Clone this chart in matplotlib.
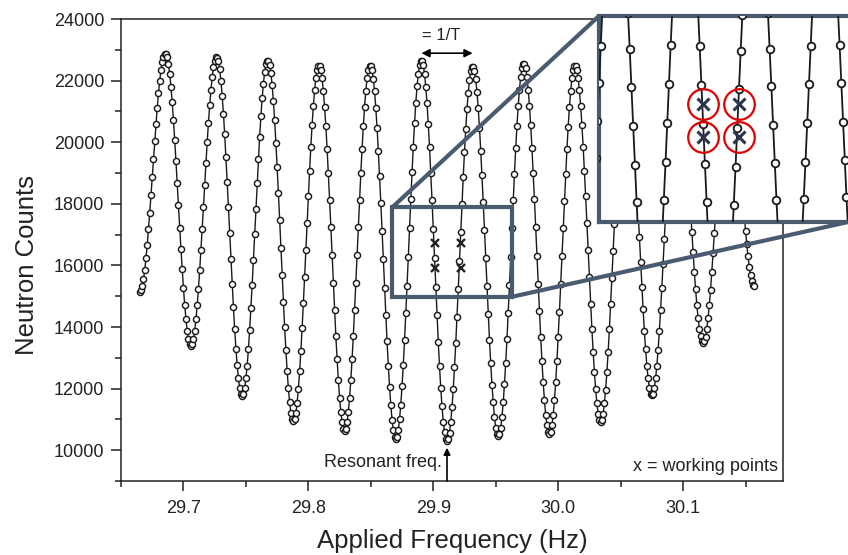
import numpy as np
import matplotlib
matplotlib.use("Agg")
import matplotlib.pyplot as plt
from matplotlib.patches import Rectangle, ConnectionPatch

plt.rcParams['font.family'] = ['Liberation Sans', 'DejaVu Sans']

# frequency sweep (Hz): start and step of the scan
freq_start = 29.665
freq_step = 0.001

# neutron counts, one line per half fringe
counts = [
    15150, 15200, 15330, 15550, 15850, 16230, 16670, 17170, 17710, 18280, 18870, 19460, 20040, 20600, 21120, 21590, 22000, 22340, 22600, 22780, 22870,
    22870, 22760, 22540, 22210, 21800, 21290, 20710, 20080, 19390, 18680, 17950, 17230, 16530, 15870, 15260, 14720, 14260, 13880, 13610, 13450,
    13390, 13450, 13610, 13880, 14250, 14700, 15240, 15840, 16500, 17190, 17900, 18620, 19320, 20000, 20630, 21200, 21700, 22110, 22430, 22650, 22760,
    22750, 22630, 22370, 22000, 21510, 20930, 20260, 19520, 18720, 17900, 17050, 16220, 15400, 14640, 13930, 13300, 12760, 12330, 12020, 11830,
    11760, 11820, 12010, 12330, 12750, 13280, 13910, 14610, 15370, 16180, 17010, 17840, 18660, 19450, 20180, 20840, 21420, 21900, 22280, 22530, 22650,
    22650, 22520, 22250, 21850, 21330, 20710, 19990, 19200, 18360, 17480, 16580, 15690, 14820, 14000, 13250, 12580, 12010, 11550, 11210, 11010,
    10940, 11010, 11210, 11540, 11990, 12560, 13220, 13960, 14770, 15620, 16500, 17380, 18250, 19080, 19860, 20570, 21180, 21690, 22080, 22350, 22480,
    22480, 22340, 22070, 21670, 21140, 20510, 19790, 18990, 18130, 17240, 16330, 15430, 14550, 13720, 12960, 12280, 11700, 11240, 10900, 10690,
    10620, 10690, 10900, 11240, 11700, 12280, 12960, 13720, 14550, 15430, 16330, 17240, 18130, 18990, 19790, 20510, 21140, 21670, 22070, 22340, 22480,
    22480, 22340, 22060, 21650, 21110, 20470, 19730, 18910, 18040, 17130, 16200, 15270, 14380, 13530, 12750, 12060, 11470, 10990, 10640, 10430,
    10360, 10430, 10650, 11000, 11480, 12080, 12780, 13570, 14440, 15340, 16280, 17220, 18150, 19030, 19860, 20610, 21260, 21810, 22220, 22510, 22650,
    22650, 22510, 22220, 21800, 21260, 20600, 19850, 19010, 18120, 17190, 16240, 15300, 14390, 13520, 12730, 12020, 11420, 10930, 10580, 10360,
    10290, 10360, 10570, 10920, 11400, 11990, 12690, 13470, 14320, 15220, 16150, 17080, 17990, 18870, 19690, 20430, 21080, 21610, 22030, 22310, 22450,
    22450, 22310, 22040, 21630, 21100, 20460, 19730, 18920, 18050, 17150, 16230, 15320, 14430, 13590, 12820, 12130, 11550, 11070, 10730, 10520,
    10450, 10520, 10730, 11080, 11550, 12140, 12830, 13610, 14460, 15350, 16270, 17200, 18110, 18980, 19800, 20530, 21180, 21710, 22120, 22400, 22540,
    22540, 22400, 22120, 21710, 21190, 20550, 19820, 19010, 18140, 17240, 16310, 15400, 14510, 13670, 12900, 12210, 11630, 11150, 10810, 10600,
    10530, 10600, 10810, 11150, 11620, 12200, 12890, 13660, 14490, 15380, 16290, 17200, 18100, 18960, 19770, 20500, 21130, 21660, 22070, 22340, 22480,
    22480, 22350, 22080, 21690, 21180, 20560, 19860, 19080, 18240, 17380, 16490, 15610, 14750, 13940, 13200, 12540, 11980, 11520, 11190, 10990,
    10920, 10990, 11190, 11520, 11970, 12530, 13190, 13930, 14740, 15590, 16460, 17350, 18210, 19040, 19820, 20520, 21130, 21640, 22030, 22300, 22430,
    22430, 22310, 22060, 21700, 21230, 20660, 20020, 19300, 18530, 17730, 16910, 16100, 15310, 14570, 13880, 13270, 12750, 12330, 12030, 11840,
    11780, 11840, 12030, 12330, 12740, 13260, 13860, 14540, 15280, 16060, 16860, 17670, 18470, 19230, 19940, 20580, 21140, 21610, 21970, 22210, 22330,
    22340, 22230, 22030, 21730, 21340, 20870, 20330, 19730, 19090, 18430, 17750, 17080, 16420, 15800, 15230, 14730, 14300, 13950, 13700, 13540,
    13490, 13540, 13690, 13950, 14290, 14710, 15210, 15780, 16390, 17040, 17700, 18370, 19030, 19660, 20250, 20780, 21250, 21630, 21930, 22140, 22240,
    22240, 22160, 22000, 21760, 21460, 21090, 20670, 20200, 19700, 19180, 18650, 18130, 17610, 17130, 16680, 16290, 15950, 15680, 15480, 15360,
    15320,
]

freq = freq_start + freq_step * np.arange(len(counts))

# working points (Hz, counts)
wp_freq = [29.901, 29.901, 29.922, 29.922]
wp_counts = [16730, 15930, 16730, 15930]

resonant_freq = 29.911
period_peaks = [29.8905, 29.9315]   # two neighbouring maxima -> 1/T

# zoom box drawn on the main plot and range shown in the inset
box_x = [29.867, 29.963]
box_y = [14980, 17880]
inset_x = [29.840, 29.9988]
inset_y = [13905, 18837]

slate = '#4a5b70'

fig = plt.figure(figsize=(8.48, 5.55), dpi=100)
ax = fig.add_axes([121/848, 74/555, 662/848, 462/555])

ax.plot(freq, counts, '-', color='#1a1a1a', lw=1.0, marker='o', ms=4.4,
        mfc='white', mec='#1a1a1a', mew=1.05, zorder=3)
ax.plot(wp_freq, wp_counts, 'x', color='#222222', ms=5.5, mew=1.7, zorder=4)

ax.set_xlim(29.65, 30.18)
ax.set_ylim(9000, 24000)
ax.set_xticks([29.7, 29.8, 29.9, 30.0, 30.1])
ax.set_xticklabels(['29.7', '29.8', '29.9', '30.0', '30.1'])
ax.set_xticks(np.arange(29.65, 30.16, 0.05), minor=True)
ax.set_yticks(np.arange(10000, 24001, 2000))
ax.set_yticks(np.arange(9000, 24001, 1000), minor=True)
ax.tick_params(which='major', direction='out', length=7, width=1.1,
               labelsize=13, pad=5, colors='#222222')
ax.tick_params(which='minor', direction='out', length=4, width=1.1,
               colors='#222222')
ax.tick_params(axis='x', which='major', pad=7)
for s in ax.spines.values():
    s.set_linewidth(1.1)
    s.set_color('#222222')

ax.set_xlabel('Applied Frequency (Hz)', fontsize=18.5, labelpad=8, color='#222222')
ax.set_ylabel('Neutron Counts', fontsize=18.5, color='#222222')
ax.yaxis.set_label_coords(-0.124, 0.4675)

# annotations
ax.annotate('', xy=(resonant_freq, 10080), xytext=(resonant_freq, 9000),
            arrowprops=dict(arrowstyle='-|>', color='black', lw=1.2,
                            mutation_scale=10, shrinkA=0, shrinkB=0))
ax.text(resonant_freq - 0.004, 9600, 'Resonant freq.', ha='right', va='center',
        fontsize=13, color='#222222')
ax.annotate('', xy=(period_peaks[0], 22890), xytext=(period_peaks[1], 22890),
            arrowprops=dict(arrowstyle='<|-|>', color='black', lw=1.2,
                            mutation_scale=12, shrinkA=0, shrinkB=0))
ax.text(29.906, 23480, '= 1/T', ha='center', va='center', fontsize=12,
        color='#222222')
ax.text(30.176, 9480, 'x = working points', ha='right', va='center',
        fontsize=13, color='#222222')

ax.add_patch(Rectangle((box_x[0], box_y[0]), box_x[1] - box_x[0],
                       box_y[1] - box_y[0], fill=False, ec=slate, lw=3,
                       zorder=6))

# magnified inset (runs off the right edge, as in the original)
axin = fig.add_axes([599/848, 333/555, 271/848, 206/555])
axin.plot(freq, counts, '-', color='#1a1a1a', lw=1.3, marker='o', ms=5.5,
          mfc='white', mec='#1a1a1a', mew=1.3, zorder=3)
axin.plot(wp_freq, wp_counts, 'x', color='#2b3550', ms=8, mew=2.2, zorder=4)
axin.plot(wp_freq, wp_counts, 'o', ms=22, mfc='none', mec='#e00000',
          mew=1.6, zorder=5)
axin.set_xlim(inset_x)
axin.set_ylim(inset_y)
axin.set_xticks([])
axin.set_yticks([])
for s in axin.spines.values():
    s.set_linewidth(3)
    s.set_color(slate)

con1 = ConnectionPatch(xyA=(box_x[0], box_y[1]), coordsA=ax.transData,
                       xyB=(0, 1), coordsB=axin.transAxes,
                       color=slate, lw=3)
con2 = ConnectionPatch(xyA=(box_x[1], box_y[0]), coordsA=ax.transData,
                       xyB=(1.0, 333/555), coordsB=fig.transFigure,
                       color=slate, lw=3)
fig.add_artist(con1)
fig.add_artist(con2)

fig.savefig('out.png', dpi=100)
